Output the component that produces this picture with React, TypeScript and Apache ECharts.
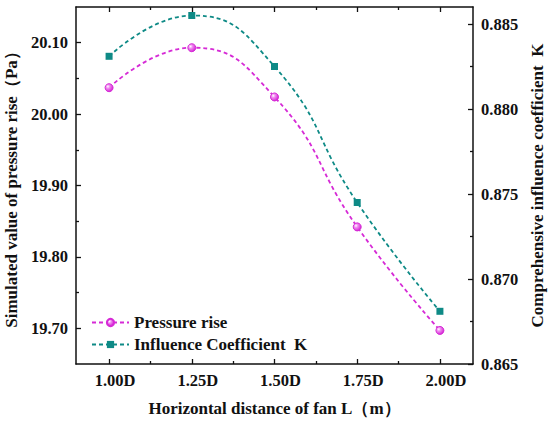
import React, { useEffect, useRef } from "react";
import * as echarts from "echarts";

const xPositions = [1.0, 1.25, 1.5, 1.75, 2.0];
const xMinorTicks = [1.125, 1.375, 1.625, 1.875];
const pressureRise = [20.037, 20.093, 20.024, 19.842, 19.697];
const influenceK = [0.8831, 0.8855, 0.8825, 0.8745, 0.8681];
const leftMajor = [19.7, 19.8, 19.9, 20.0, 20.1];
const leftMinor = [19.75, 19.85, 19.95, 20.05];
const rightMajor = [0.865, 0.87, 0.875, 0.88, 0.885];
const rightMinor = [0.8675, 0.8725, 0.8775, 0.8825];

const FONT = "'Times New Roman', 'Liberation Serif', 'DejaVu Serif', serif";
const MAGENTA = "#D62AD6";
const TEAL = "#0E8A86";
const BLACK = "#111";

export default function App() {
  const ref = useRef<HTMLDivElement>(null);
  useEffect(() => {
    document.body.style.margin = "0";
    if (!ref.current) return;
    const chart = echarts.init(ref.current, null, { renderer: "svg" });
    const X_MIN = 0.9, X_MAX = 2.1;
    const L_MIN = 19.65, L_MAX = 20.15;
    const R_MIN = 0.865, R_MAX = 0.886;
    const lineAx = { show: true, lineStyle: { color: BLACK, width: 1.5 } };
    const noLine = { show: false };
    const mkX = (pos: string, ticks: number[], len: number, showLine: boolean, labels: boolean, extra: any = {}) => ({
      type: "value",
      position: pos,
      min: X_MIN,
      max: X_MAX,
      axisLine: showLine ? lineAx : noLine,
      axisTick: { show: true, inside: true, length: len, customValues: ticks, lineStyle: { color: BLACK, width: 1.3 } },
      axisLabel: labels
        ? {
            show: true,
            customValues: xPositions,
            formatter: (v: number) => v.toFixed(2) + "D",
            fontFamily: FONT,
            fontWeight: "bold",
            fontSize: 16.5,
            color: BLACK,
            margin: 8,
            padding: [0, 0, 0, 12],
          }
        : { show: false },
      splitLine: { show: false },
      ...extra,
    });
    const mkY = (pos: string, min: number, max: number, ticks: number[], len: number, showLine: boolean, labels: number[] | null, digits: number, extra: any = {}) => ({
      type: "value",
      position: pos,
      min,
      max,
      axisLine: showLine ? lineAx : noLine,
      axisTick: { show: true, inside: true, length: len, customValues: ticks, lineStyle: { color: BLACK, width: 1.3 } },
      axisLabel: labels
        ? {
            show: true,
            customValues: labels,
            formatter: (v: number) => v.toFixed(digits),
            fontFamily: FONT,
            fontWeight: "bold",
            fontSize: 16.5,
            color: BLACK,
            margin: 8,
          }
        : { show: false },
      splitLine: { show: false },
      ...extra,
    });
    const nameStyle = { fontFamily: FONT, fontWeight: "bold", fontSize: 17, color: BLACK };
    chart.setOption({
      animation: false,
      backgroundColor: "#fff",
      grid: { left: 76, right: 77, top: 7, bottom: 59, outerBoundsMode: "none", containLabel: false },
      legend: {
        orient: "vertical",
        left: 86,
        top: 309,
        itemWidth: 37,
        itemHeight: 9,
        itemGap: 5,
        textStyle: { fontFamily: FONT, fontWeight: "bold", fontSize: 17, color: BLACK },
        data: ["Pressure rise", "Influence Coefficient  K"],
      },
      xAxis: [
        mkX("bottom", xPositions, 5, true, true, {
          name: "Horizontal distance of fan L（m）",
          nameLocation: "middle",
          nameGap: 36,
          nameTextStyle: nameStyle,
        }),
        mkX("bottom", xMinorTicks, 3, false, false),
        mkX("top", xPositions, 5, true, false),
        mkX("top", xMinorTicks, 3, false, false),
      ],
      yAxis: [
        mkY("left", L_MIN, L_MAX, leftMajor, 5, true, leftMajor, 2, {
          name: "Simulated value of pressure rise（Pa）",
          nameLocation: "middle",
          nameRotate: 90,
          nameGap: 54,
          nameTextStyle: nameStyle,
        }),
        mkY("left", L_MIN, L_MAX, leftMinor, 3, false, null, 2),
        mkY("right", R_MIN, R_MAX, rightMajor, 5, true, rightMajor, 3, {
          name: "Comprehensive influence coefficient  K",
          nameLocation: "middle",
          nameRotate: 90,
          nameGap: 51,
          nameTextStyle: nameStyle,
        }),
        mkY("right", R_MIN, R_MAX, rightMinor, 3, false, null, 3),
      ],
      series: [
        {
          name: "Pressure rise",
          type: "line",
          xAxisIndex: 0,
          yAxisIndex: 0,
          smooth: 0.5,
          data: xPositions.map((x, i) => [x, pressureRise[i]]),
          symbol: "circle",
          symbolSize: 8,
          lineStyle: { color: MAGENTA, width: 1.8, type: [4, 3] },
          itemStyle: {
            color: new echarts.graphic.RadialGradient(0.35, 0.35, 0.65, [
              { offset: 0, color: "#ffffff" },
              { offset: 0.35, color: "#f090f0" },
              { offset: 1, color: MAGENTA },
            ]),
            borderColor: MAGENTA,
            borderWidth: 1,
          },
          z: 3,
        },
        {
          name: "Influence Coefficient  K",
          type: "line",
          xAxisIndex: 0,
          yAxisIndex: 2,
          smooth: 0.5,
          data: xPositions.map((x, i) => [x, influenceK[i]]),
          symbol: "rect",
          symbolSize: 7,
          lineStyle: { color: TEAL, width: 1.8, type: [4, 3] },
          itemStyle: { color: TEAL },
          z: 3,
        },
      ],
    });
    return () => chart.dispose();
  }, []);
  return <div ref={ref} style={{ width: 550, height: 423 }} />;
}
